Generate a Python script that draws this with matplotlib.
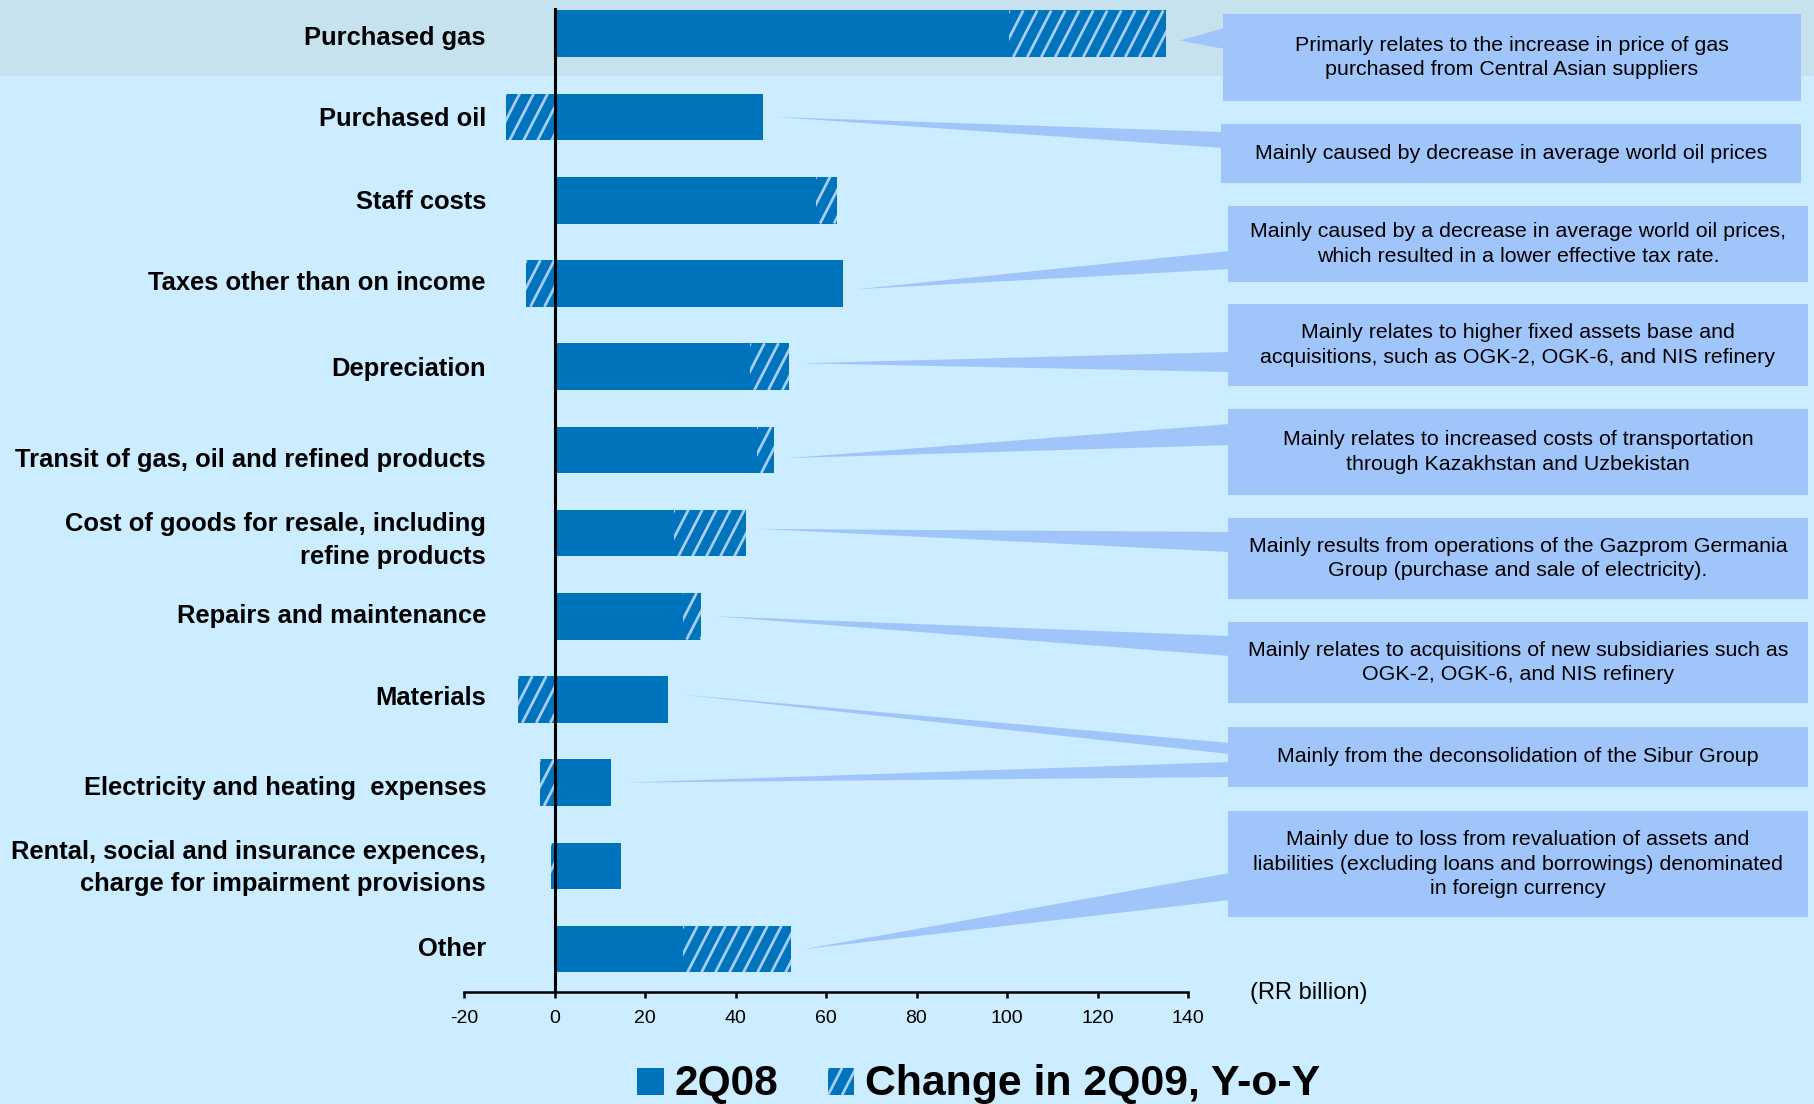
import matplotlib
matplotlib.use("Agg")
import numpy as np
import matplotlib.pyplot as plt
from matplotlib.patches import Rectangle, Polygon
from matplotlib.collections import LineCollection
from matplotlib.transforms import blended_transform_factory

plt.rcParams['font.family'] = ['Liberation Sans', 'DejaVu Sans']

# operating expenses, RR billion
categories = [
    "Purchased gas",
    "Purchased oil",
    "Staff costs",
    "Taxes other than on income",
    "Depreciation",
    "Transit of gas, oil and refined products",
    "Cost of goods for resale, including\nrefine products",
    "Repairs and maintenance",
    "Materials",
    "Electricity and heating  expenses",
    "Rental, social and insurance expences,\ncharge for impairment provisions",
    "Other",
]
q2_2008 = [100.5, 46.0, 57.8, 63.8, 43.3, 44.8, 26.5, 28.3, 25.0, 12.4, 14.8, 28.5]
change_yoy = [34.6, -10.8, 4.6, -6.2, 8.5, 3.7, 15.8, 4.1, -8.0, -3.2, -0.7, 23.8]
x_ticks = [-20, 0, 20, 40, 60, 80, 100, 120, 140]

notes = [
    "Primarly relates to the increase in price of gas\npurchased from Central Asian suppliers",
    "Mainly caused by decrease in average world oil prices",
    "Mainly caused by a decrease in average world oil prices,\nwhich resulted in a lower effective tax rate.",
    "Mainly relates to higher fixed assets base and\nacquisitions, such as OGK-2, OGK-6, and NIS refinery",
    "Mainly relates to increased costs of transportation\nthrough Kazakhstan and Uzbekistan",
    "Mainly results from operations of the Gazprom Germania\nGroup (purchase and sale of electricity).",
    "Mainly relates to acquisitions of new subsidiaries such as\nOGK-2, OGK-6, and NIS refinery",
    "Mainly from the deconsolidation of the Sibur Group",
    "Mainly due to loss from revaluation of assets and\nliabilities (excluding loans and borrowings) denominated\nin foreign currency",
]
# which bars each note points at
note_targets = [[0], [1], [3], [4], [5], [6], [7], [8, 9], [11]]

# layout in pixels (left, top, right, bottom) and pointer bases on the box edge
W, H = 1814, 1104
note_boxes = [
    (1223, 14, 1801, 101), (1221, 124, 1801, 183), (1228, 206, 1808, 282),
    (1228, 304, 1808, 386), (1228, 409, 1808, 495), (1228, 518, 1808, 599),
    (1228, 622, 1808, 703), (1228, 727, 1808, 787), (1228, 811, 1808, 917),
]
pointer_bases = [
    [(28, 49)], [(132, 148)], [(251, 269)], [(352, 372)], [(424, 445)],
    [(532, 552)], [(636, 656)], [(743, 754), (762, 777)], [(873, 900)],
]
pointer_dy = [0.08, 0.0, 0.0, 0.07, -0.04, 0.1, -0.05, 0.0, -0.06, 0.0, 0.0, 0.0]
label_dy = [0.05, 0.03, 0.02, -0.01, 0.03, 0.12, 0.09, 0.0, -0.02, 0.06, 0.03, 0.0]

BG = '#CCECFF'
BAND = '#C6E2EE'
BAR = '#0073BD'
HATCH = '#A6CEF4'
BOX = '#A0C5FA'
BAR_H = 0.56

# diagonal stripe geometry, in pixels
STRIPE_STEP = 14.0
STRIPE_SLOPE = 1.94
STRIPE_LW = 2.0

fig = plt.figure(figsize=(W / 100, H / 100), dpi=100, facecolor=BG)

# highlighted first row
fig.add_artist(Rectangle((0, 1 - 76 / H), 1, 76 / H, transform=fig.transFigure,
                         facecolor=BAND, edgecolor='none', zorder=0))

ax = fig.add_axes([464 / W, 1 - 991.5 / H, (1188 - 464) / W, 983.5 / H])
ax.patch.set_visible(False)
ax.set_xlim(-20, 140)
ax.set_ylim(11.51, -0.31)

ypos = list(range(len(categories)))
ax.barh(ypos, q2_2008, height=BAR_H, color=BAR, linewidth=0, zorder=2)
lefts = [b if c > 0 else 0 for b, c in zip(q2_2008, change_yoy)]
change_bars = ax.barh(ypos, change_yoy, left=lefts, height=BAR_H, color=BAR,
                      linewidth=0, zorder=2)

# steep light stripes over the change segments
px_x = ax.transData.transform((1, 0))[0] - ax.transData.transform((0, 0))[0]
px_y = abs(ax.transData.transform((0, 1))[1] - ax.transData.transform((0, 0))[1])
rise_px = BAR_H * px_y
run = rise_px / STRIPE_SLOPE / px_x
step = STRIPE_STEP / px_x
for i, patch in enumerate(change_bars.patches):
    x0 = min(lefts[i], lefts[i] + change_yoy[i])
    x1 = max(lefts[i], lefts[i] + change_yoy[i])
    starts = np.arange(x0 - run, x1 + step, step)
    segs = [[(s, i + BAR_H / 2), (s + run, i - BAR_H / 2)] for s in starts]
    lc = LineCollection(segs, colors=HATCH, linewidths=STRIPE_LW, zorder=2.5)
    ax.add_collection(lc, autolim=False)
    lc.set_clip_path(patch)

ax.axvline(0, color='black', lw=2.2, zorder=3)

for s in ['top', 'right', 'left']:
    ax.spines[s].set_visible(False)
ax.spines['bottom'].set_linewidth(1.8)
ax.set_yticks([])
ax.set_xticks(x_ticks)
ax.set_xticklabels([str(t) for t in x_ticks])
ax.tick_params(axis='x', direction='out', length=4.5, width=1.8, pad=9,
               labelsize=14)

# category labels, right-aligned left of the zero line
lab_tr = blended_transform_factory(fig.transFigure, ax.transData)
for i, name in enumerate(categories):
    ax.text(486 / W, i + label_dy[i], name, transform=lab_tr, ha='right',
            va='center', fontsize=18.4, fontweight='bold', linespacing=1.43)

fig.text(1250 / W, 1 - 993 / H, "(RR billion)", fontsize=17, va='center')

# callout boxes with wedge pointers
to_fig = fig.transFigure.inverted()
for note, box, bases, targets in zip(notes, note_boxes, pointer_bases, note_targets):
    l, t, r, b = box
    fig.add_artist(Rectangle((l / W, 1 - b / H), (r - l) / W, (b - t) / H,
                             transform=fig.transFigure, facecolor=BOX,
                             edgecolor='none', zorder=1))
    for (y1, y2), k in zip(bases, targets):
        end = q2_2008[k] + max(change_yoy[k], 0)
        tip = to_fig.transform(ax.transData.transform((end + 3.0, k + pointer_dy[k])))
        fig.add_artist(Polygon([tip, (l / W + 0.001, 1 - y1 / H), (l / W + 0.001, 1 - y2 / H)],
                               closed=True, transform=fig.transFigure,
                               facecolor=BOX, edgecolor='none', zorder=1))
    fig.text((l + r) / 2 / W, 1 - (t + b) / 2 / H, note, ha='center', va='center',
             fontsize=15.4, linespacing=1.38, zorder=2)

# legend
fig.add_artist(Rectangle((637 / W, 1 - 1095 / H), 27 / W, 27 / H,
                         transform=fig.transFigure, facecolor=BAR, edgecolor='none'))
fig.text(674 / W, 1 - 1095 / H, "2Q08", fontsize=30.5, fontweight='bold', va='baseline')

key = Rectangle((828 / W, 1 - 1095 / H), 26 / W, 27 / H, transform=fig.transFigure,
                facecolor=BAR, edgecolor='none')
fig.add_artist(key)
key_run = 27 / STRIPE_SLOPE
key_segs = [[((828 + s) / W, 1 - 1095 / H), ((828 + s + key_run) / W, 1 - 1068 / H)]
            for s in np.arange(-key_run, 26 + STRIPE_STEP, STRIPE_STEP)]
key_lc = LineCollection(key_segs, colors=HATCH, linewidths=STRIPE_LW,
                        transform=fig.transFigure)
fig.add_artist(key_lc)
key_lc.set_clip_path(key)

fig.text(865 / W, 1 - 1095 / H, "Change in 2Q09, Y-o-Y", fontsize=30.8,
         fontweight='bold', va='baseline')

fig.savefig('out.png', dpi=100, facecolor=BG)
